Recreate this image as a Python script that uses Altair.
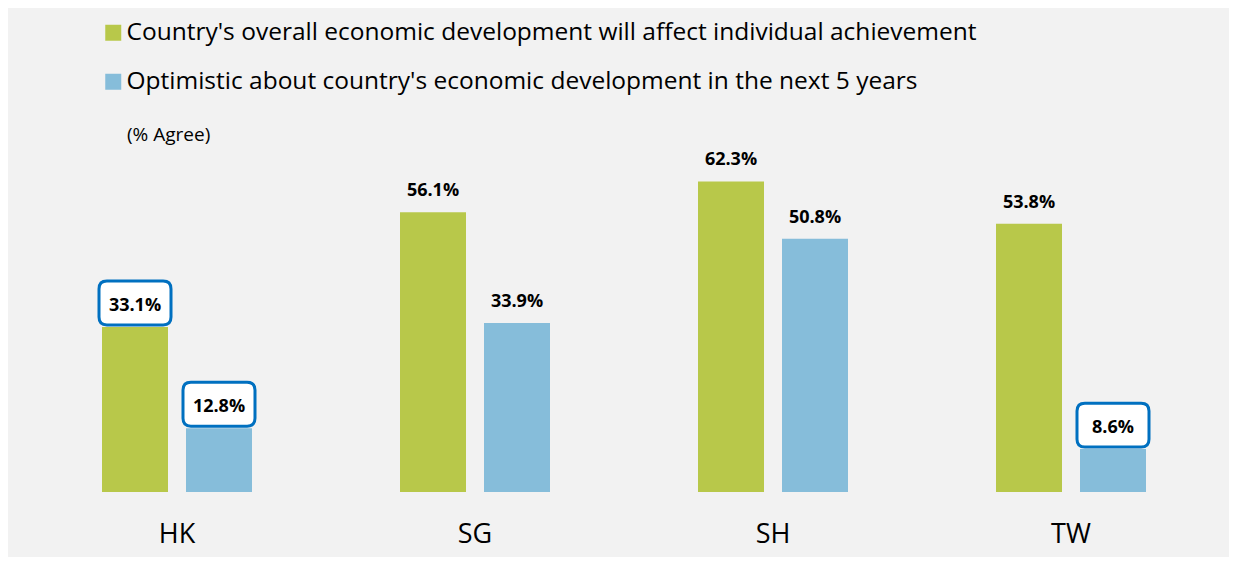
import altair as alt
import pandas as pd

regions = ["HK", "SG", "SH", "TW"]
series = [
    "Country's overall economic development will affect individual achievement",
    "Optimistic about country's economic development in the next 5 years",
]
effect_values = [33.1, 56.1, 62.3, 53.8]
optimism_values = [12.8, 33.9, 50.8, 8.6]
highlighted = [("HK", 0), ("HK", 1), ("TW", 1)]
colors = ["#B8C84A", "#86BDDA"]
note = "(% Agree)"

rows = []
for i, r in enumerate(regions):
    for j, vals in enumerate([effect_values, optimism_values]):
        rows.append({
            "region": r,
            "series": series[j],
            "value": vals[i],
            "boxed": (r, j) in highlighted,
        })
df = pd.DataFrame(rows)
note_df = pd.DataFrame({"note": [note]})

FONT = "Open Sans"
BOX_PATH = ("M -0.78,-0.611 L 0.78,-0.611 Q 1,-0.611 1,-0.391 L 1,0.391 "
            "Q 1,0.611 0.78,0.611 L -0.78,0.611 Q -1,0.611 -1,0.391 "
            "L -1,-0.391 Q -1,-0.611 -0.78,-0.611 Z")

x = alt.X(
    "region:N", sort=regions,
    scale=alt.Scale(paddingInner=0, paddingOuter=0),
    axis=alt.Axis(title=None, domain=False, ticks=False, labelAngle=0,
                  labelFontSize=27, labelColor="black", labelPadding=29,
                  labelFont=FONT),
)
xoff = alt.XOffset("series:N", sort=series,
                   scale=alt.Scale(paddingInner=0.2143, paddingOuter=0.881))
y = alt.Y("value:Q", scale=alt.Scale(domain=[0, 70]), axis=None)

base = alt.Chart(df).encode(x=x, xOffset=xoff, y=y)

bars = base.mark_bar().encode(
    color=alt.Color(
        "series:N", sort=series,
        scale=alt.Scale(domain=series, range=colors),
        legend=alt.Legend(
            title=None, orient="none", legendX=73, legendY=-122.5,
            symbolType="square", symbolSize=256, symbolStrokeWidth=0,
            labelFontSize=24.5, labelLimit=1200, rowPadding=24, labelOffset=1,
            padding=0, labelColor="black", labelFont=FONT,
        ),
    )
)

boxes = base.transform_filter("datum.boxed").mark_point(
    shape=BOX_PATH, size=5184, filled=True, fill="white", stroke="#0070C0",
    strokeWidth=3, opacity=1, yOffset=-24,
)

labels = base.transform_calculate(
    label="format(datum.value, '.1f') + '%'"
).mark_text(
    dy=-21, baseline="middle", fontSize=18, fontWeight="bold", font=FONT,
    color="black",
).encode(text="label:N")

note_text = alt.Chart(note_df).mark_text(
    align="left", baseline="middle", fontSize=19, font=FONT, color="black",
).encode(x=alt.value(99), y=alt.value(-8), text="note:N")

chart = alt.layer(bars, boxes, labels, note_text).properties(
    width=1192, height=349,
    autosize=alt.AutoSizeParams(type="none"),
    padding={"left": 20, "top": 135, "right": 9, "bottom": 65},
    background="#F2F2F2",
).configure_view(strokeWidth=0)

chart.save("out.html", embed_options={"renderer": "svg", "actions": False})
